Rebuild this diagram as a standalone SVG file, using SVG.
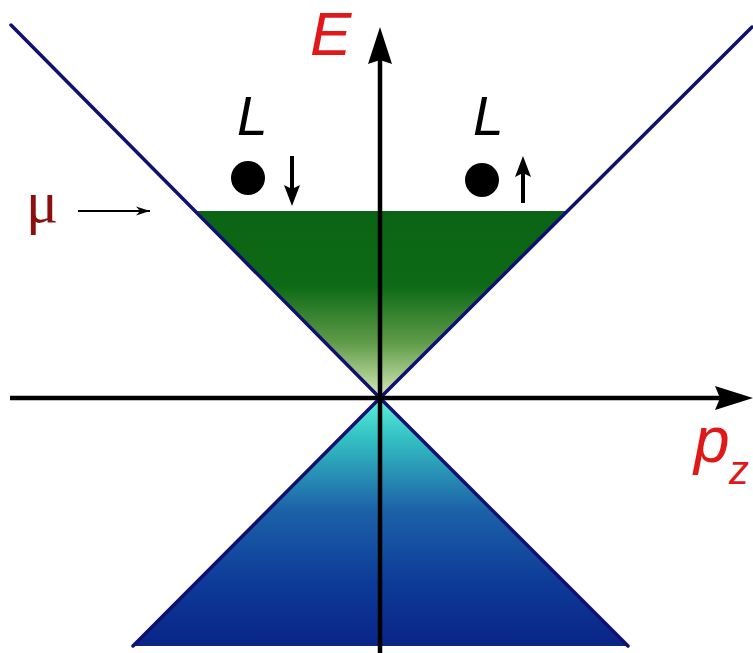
<svg xmlns="http://www.w3.org/2000/svg" width="753" height="653" viewBox="0 0 753 653">
<defs>
<linearGradient id="gUp" x1="0" y1="211" x2="0" y2="398" gradientUnits="userSpaceOnUse">
<stop offset="0" stop-color="#0b6414"/>
<stop offset="0.4" stop-color="#0d6a16"/>
<stop offset="0.7" stop-color="#5e9a48"/>
<stop offset="1" stop-color="#d8ecb8"/>
</linearGradient>
<linearGradient id="gDown" x1="0" y1="398" x2="0" y2="646" gradientUnits="userSpaceOnUse">
<stop offset="0" stop-color="#5ff0dc"/>
<stop offset="0.15" stop-color="#35c4c4"/>
<stop offset="0.45" stop-color="#1c62a8"/>
<stop offset="0.75" stop-color="#0d3a98"/>
<stop offset="1" stop-color="#0a2488"/>
</linearGradient>
<marker id="ah" viewBox="0 0 14 10" refX="14" refY="5" markerWidth="14" markerHeight="10" markerUnits="userSpaceOnUse" orient="auto">
<path d="M0,0.5 L14,5 L0,9.5 L4,5 Z" fill="#000"/>
</marker>
<style>
.cone{stroke:#101070;stroke-width:3.5;fill:none;stroke-linecap:round}
.axis{stroke:#000;stroke-width:4.5}
.lab{font-family:"Liberation Sans",Arial,sans-serif;font-style:italic}
</style>
</defs>
<rect width="753" height="653" fill="#fff"/>
<g id="fills">
<polygon points="197,211 566,211 380,398" fill="url(#gUp)"/>
<polygon points="380,398 133,646 628,646" fill="url(#gDown)"/>
</g>
<g id="connectors">
<line class="cone" x1="11" y1="25" x2="380" y2="398"/>
<line class="cone" x1="752" y1="27" x2="380" y2="398"/>
<line class="cone" x1="380" y1="398" x2="133" y2="646"/>
<line class="cone" x1="380" y1="398" x2="628" y2="646"/>
<line class="axis" x1="380" y1="653" x2="380" y2="60"/>
<polygon points="380,27 368,64 380,60 392,64" fill="#000"/>
<line class="axis" x1="10" y1="398" x2="720" y2="398"/>
<polygon points="753,398 715,386 720,398 715,410" fill="#000"/>
<line x1="78" y1="211" x2="150" y2="211" stroke="#000" stroke-width="2" marker-end="url(#ah)"/>
<line x1="292" y1="156" x2="292" y2="190" stroke="#000" stroke-width="4"/>
<polygon points="292,206 284,185 292,189 300,185" fill="#000"/>
<line x1="523" y1="203" x2="523" y2="172" stroke="#000" stroke-width="4"/>
<polygon points="523,156 515,177 523,173 531,177" fill="#000"/>
</g>
<g id="labels">
<text class="lab" x="310" y="55" font-size="62" fill="#e01818">E</text>
<text class="lab" x="694" y="462" font-size="64" fill="#e01818">p</text>
<text class="lab" x="729" y="484" font-size="40" fill="#e01818">z</text>
<text x="26" y="222" font-family="Liberation Serif,'Times New Roman',serif" font-size="60" fill="#8a1010">μ</text>
<text class="lab" x="237" y="135" font-size="55" fill="#000">L</text>
<text class="lab" x="473" y="135" font-size="55" fill="#000">L</text>
<circle cx="248" cy="178" r="17" fill="#000"/>
<circle cx="482" cy="180" r="17" fill="#000"/>
</g>
</svg>
